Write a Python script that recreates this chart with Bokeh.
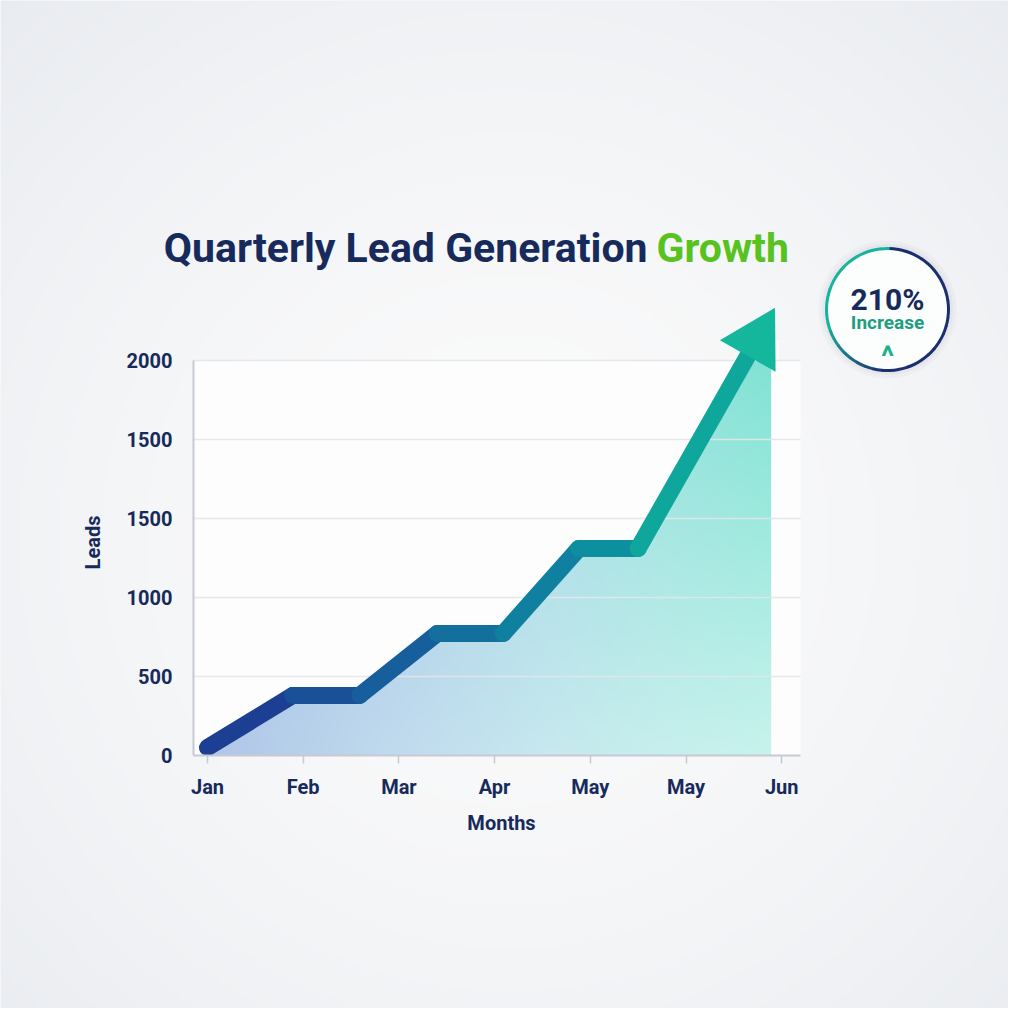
import numpy as np
from bokeh.plotting import figure
from bokeh.models import Range1d, FixedTicker, Label
from bokeh.embed import file_html
from bokeh.resources import INLINE

# ---------------- data ----------------
month_ticks = [0, 1, 2, 3, 4, 5, 6]
month_labels = ["Jan", "Feb", "Mar", "Apr", "May", "May", "Jun"]
y_ticks = [0, 500, 1000, 1500, 2000, 2500]
y_tick_labels = ["0", "500", "1000", "1500", "1500", "2000"]
# nodes of the stepped growth line (x in month units, y = leads)
node_x = [0.0, 0.89, 1.59, 2.40, 3.09, 3.88, 4.50, 5.74]
leads = [50, 380, 380, 772, 772, 1310, 1310, 2630]
fill_end_x = 5.89
badge_value = "210%"
badge_text = "Increase"

# ---------------- styles ----------------
NAVY = "#172a5c"
GREEN = "#58c21f"
TEAL_TXT = "#1f9e7e"
GRID = "#e3e6ea"
AXIS = "#c6cad4"
PLOT_BG = "#fdfdfe"
FONT = "Roboto"
line_cols = ["#1c3f94", "#1a5097", "#175f9c", "#13709e", "#0f809f", "#0c909f", "#0fa69c"]
HEAD = "#14b79b"

PXX = 95.7    # px per month
PXY = 0.158   # px per lead
W = H = 1008

def dx(px):
    return (px - 207) / PXX

def dy(py):
    return (755 - py) / PXY

X_AXIS = dx(193)
AXIS_END_X = dx(800)
GRID_TOP = y_ticks[-1]

p = figure(frame_width=W, frame_height=H,
           x_range=Range1d(dx(0), dx(W)), y_range=Range1d(dy(H), dy(0)),
           output_backend="svg", toolbar_location=None,
           min_border_left=0, min_border_right=0, min_border_top=0, min_border_bottom=0)
p.background_fill_color = "#f5f6f8"
p.border_fill_color = "#f5f6f8"
p.outline_line_color = None
p.xgrid.grid_line_color = None
p.ygrid.grid_line_color = None

def hex_rgb(c):
    return np.array([int(c[i:i + 2], 16) for i in (1, 3, 5)], dtype=float)

def to_rgba(rgb):
    ny, nx, _ = rgb.shape
    img = np.empty((ny, nx), dtype=np.uint32)
    view = img.view(dtype=np.uint8).reshape((ny, nx, 4))
    view[:, :, :3] = np.clip(rgb, 0, 255).astype(np.uint8)
    view[:, :, 3] = 255
    return img

# soft radial page background
gy, gx = np.mgrid[0:256, 0:256]
px_x = gx / 255 * W
px_y = H - gy / 255 * H
r = np.clip(np.hypot(px_x - 510, px_y - 540) / 760, 0, 1) ** 1.6
edge, centre = hex_rgb("#e8ebf0"), hex_rgb("#fbfbfb")
bg = centre[None, None, :] * (1 - r[..., None]) + edge[None, None, :] * r[..., None]
p.image_rgba(image=[to_rgba(bg)], x=dx(0), y=dy(H), dw=W / PXX, dh=H / PXY)

# plot area background
p.quad(left=X_AXIS, right=AXIS_END_X, bottom=0, top=GRID_TOP,
       fill_color=PLOT_BG, line_color=None)

# gradient area fill (image masked above the line)
stops_u = [0.0, 0.35, 0.6, 0.8, 1.0]
stops_c = [hex_rgb(c) for c in ["#a2bde4", "#a7cce7", "#a1d9e4", "#92e0dc", "#80e3d4"]]
nx, ny = 600, 400
u = np.linspace(0, 1, nx)
v = np.linspace(0, 1, ny)
top = np.stack([np.interp(u, stops_u, [c[k] for c in stops_c]) for k in range(3)], axis=-1)
w = (1 - v)[:, None] * (0.15 + 0.42 * u)[None, :]
fill_rgb = top[None, :, :] * (1 - w[..., None]) + 255 * w[..., None]
p.image_rgba(image=[to_rgba(fill_rgb)], x=node_x[0], y=0,
             dw=fill_end_x - node_x[0], dh=GRID_TOP)
pad = 0.08
mask_x = node_x + [fill_end_x + pad, fill_end_x + pad, X_AXIS, X_AXIS]
mask_y = leads + [leads[-1], GRID_TOP, GRID_TOP, leads[0]]
p.patch(mask_x, mask_y, fill_color=PLOT_BG, line_color=None)

# grid lines
p.segment(x0=X_AXIS, x1=AXIS_END_X, y0=y_ticks[1:], y1=y_ticks[1:],
          line_color=GRID, line_width=1.5, line_alpha=0.9)

# growth line
n = len(node_x)
p.multi_line(xs=[[node_x[i], node_x[i + 1]] for i in range(n - 1)],
             ys=[[leads[i], leads[i + 1]] for i in range(n - 1)],
             line_color=line_cols, line_width=17, line_cap="round", line_join="round")
# arrow head
p.scatter(x=[node_x[-1]], y=[leads[-1]], marker="triangle", size=64, angle=-0.515,
          fill_color=HEAD, line_color=None)

# axes
p.xaxis.fixed_location = 0
p.yaxis.fixed_location = X_AXIS
p.xaxis.ticker = FixedTicker(ticks=month_ticks)
p.xaxis.major_label_overrides = {t: l for t, l in zip(month_ticks, month_labels)}
p.yaxis.ticker = FixedTicker(ticks=y_ticks)
p.yaxis.major_label_overrides = {t: l for t, l in zip(y_ticks, y_tick_labels)}
p.xaxis.bounds = (X_AXIS, AXIS_END_X)
p.yaxis.bounds = (0, GRID_TOP)
for ax in (p.xaxis, p.yaxis):
    ax.axis_line_color = AXIS
    ax.axis_line_width = 2
    ax.major_tick_line_color = AXIS
    ax.major_tick_line_width = 1.5
    ax.minor_tick_line_color = None
    ax.major_label_text_font = FONT
    ax.major_label_text_font_size = "20px"
    ax.major_label_text_font_style = "bold"
    ax.major_label_text_color = NAVY
p.xaxis.major_tick_out = 8
p.xaxis.major_tick_in = 0
p.xaxis.major_label_standoff = 11
p.yaxis.major_tick_out = 0
p.yaxis.major_tick_in = 0
p.yaxis.major_label_standoff = 21

# axis titles
p.add_layout(Label(x=dx(92), y=dy(542), text="Leads", angle=np.pi / 2,
                   text_align="center", text_baseline="middle",
                   text_font=FONT, text_font_size="20px", text_font_style="bold",
                   text_color=NAVY))
p.add_layout(Label(x=dx(501), y=dy(822), text="Months",
                   text_align="center", text_baseline="middle",
                   text_font=FONT, text_font_size="20px", text_font_style="bold",
                   text_color=NAVY))

# title
p.add_layout(Label(x=dx(647), y=dy(247), text="Quarterly Lead Generation",
                   text_align="right", text_baseline="alphabetic",
                   text_font=FONT, text_font_size="41px", text_font_style="bold",
                   text_color=NAVY))
p.add_layout(Label(x=dx(656), y=dy(247), text="Growth",
                   text_align="left", text_baseline="alphabetic",
                   text_font=FONT, text_font_size="41px", text_font_style="bold",
                   text_color=GREEN))

# badge
bx, by = dx(887), dy(309)
p.scatter(x=[bx], y=[by], marker="circle", size=138, fill_color="#8a93a6",
          fill_alpha=0.05, line_color=None)
p.scatter(x=[bx], y=[by], marker="circle", size=131, fill_color="#8a93a6",
          fill_alpha=0.07, line_color=None)
p.scatter(x=[bx], y=[by], marker="circle", size=124, fill_color="#fcfdfd",
          line_color=None)

def lerp(c1, c2, t):
    a, b = hex_rgb(c1), hex_rgb(c2)
    return "#%02x%02x%02x" % tuple(int(round(a[k] + (b[k] - a[k]) * t)) for k in range(3))

ring_teal, ring_navy = "#17b39b", "#1b2f6e"
starts = np.arange(0, 360, 8)
ring_cols = []
for s in starts:
    m = s + 4
    if 90 <= m < 195:
        ring_cols.append(ring_teal)
    elif 195 <= m < 265:
        ring_cols.append(lerp(ring_teal, ring_navy, (m - 195) / 70))
    else:
        ring_cols.append(ring_navy)
p.arc(x=[bx] * len(starts), y=[by] * len(starts), radius=61, radius_units="screen",
      start_angle=list(np.radians(starts)), end_angle=list(np.radians(starts + 8.6)),
      line_color=ring_cols, line_width=3)

p.add_layout(Label(x=bx, y=dy(299), text=badge_value, text_align="center",
                   text_baseline="alphabetic", text_font=FONT, text_font_size="30px",
                   text_font_style="bold", text_color=NAVY))
p.add_layout(Label(x=bx, y=dy(322), text=badge_text, text_align="center",
                   text_baseline="alphabetic", text_font=FONT, text_font_size="19px",
                   text_font_style="bold", text_color=TEAL_TXT))
p.add_layout(Label(x=bx, y=dy(356), text="^", text_align="center",
                   text_baseline="alphabetic", text_font=FONT, text_font_size="30px",
                   text_font_style="bold", text_color="#1db08f"))

open("out.html", "w").write(file_html(p, INLINE))
